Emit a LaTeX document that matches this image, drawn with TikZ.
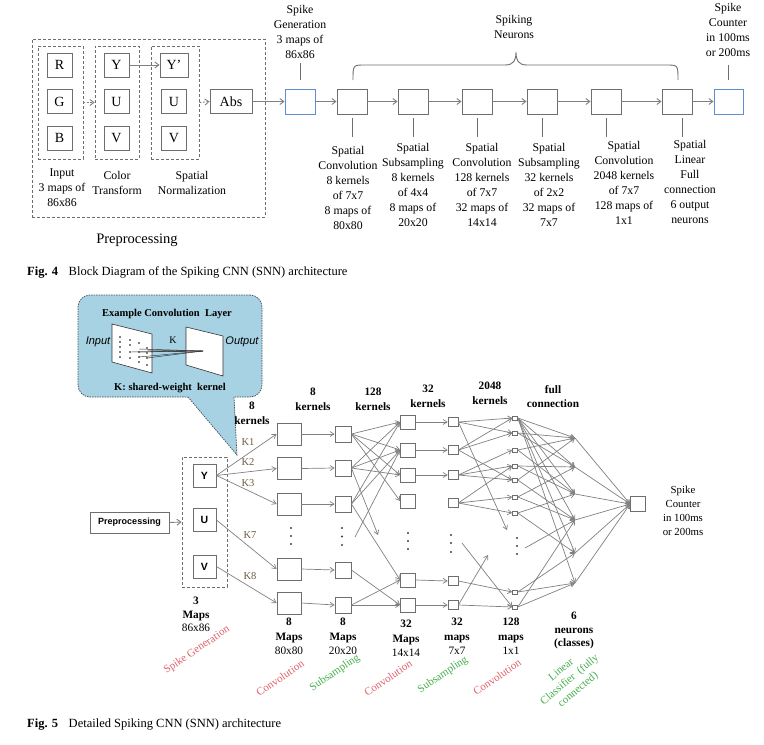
\documentclass[tikz,border=0pt]{standalone}
\usepackage{fontspec}
\setmainfont{Liberation Serif}
\setsansfont{Liberation Sans}
\usetikzlibrary{arrows.meta,calc}
\definecolor{boxgray}{HTML}{6E6E6E}
\definecolor{linegray}{HTML}{808080}
\definecolor{boxblue}{HTML}{5B8FD0}
\definecolor{callblue}{HTML}{A6D2E3}
\definecolor{lblred}{HTML}{E0606A}
\definecolor{lblgreen}{HTML}{45AD4A}
\definecolor{kcol}{HTML}{6B5B3E}
\begin{document}
\begin{tikzpicture}[x=1pt,y=-1pt,
  tb/.style={draw=boxgray,line width=0.9pt,minimum width=25pt,minimum height=24pt,inner sep=0pt,font=\fontsize{14}{16}\selectfont},
  bb/.style={draw=boxblue,line width=0.9pt,minimum width=30pt,minimum height=25pt,inner sep=0pt},
  nb/.style={draw=boxgray,line width=0.9pt,minimum width=30pt,minimum height=25pt,inner sep=0pt},
  dbox/.style={draw=boxgray,dash pattern=on 3pt off 2pt,line width=0.8pt,inner sep=0pt},
  arr/.style={draw=linegray,line width=0.9pt,-{Straight Barb[length=4pt,width=6pt]}},
  darr/.style={arr,dash pattern=on 2pt off 1.5pt},
  tickl/.style={draw=boxgray,line width=0.9pt},
  lbl/.style={align=center,inner sep=0pt,anchor=north,font=\fontsize{11.8}{15}\selectfont},
  blbl/.style={align=center,inner sep=0pt,anchor=north,font=\bfseries\fontsize{11.3}{14.5}\selectfont},
  slbl/.style={align=center,inner sep=0pt,anchor=north,font=\fontsize{10.8}{14}\selectfont},
  rl/.style={inner sep=0pt,rotate=34,font=\fontsize{11}{12}\selectfont,text=lblred},
  gl/.style={inner sep=0pt,rotate=34,font=\fontsize{11}{12}\selectfont,text=lblgreen},
  bx1/.style={draw=boxgray,line width=0.8pt,minimum width=24pt,minimum height=22pt,inner sep=0pt},
  bx2/.style={draw=boxgray,line width=0.8pt,minimum width=16pt,minimum height=16pt,inner sep=0pt},
  bx3/.style={draw=boxgray,line width=0.8pt,minimum width=15pt,minimum height=14pt,inner sep=0pt},
  bx4/.style={draw=boxgray,line width=0.7pt,minimum width=10pt,minimum height=9pt,inner sep=0pt},
  bx5/.style={draw=boxgray,line width=0.6pt,minimum width=5pt,minimum height=4pt,inner sep=0pt},
  narr/.style={draw=linegray,line width=0.7pt,-{Straight Barb[length=4pt,width=5pt]}},
  nline/.style={draw=linegray,line width=0.7pt},
  klbl/.style={inner sep=0pt,text=kcol,font=\fontsize{10.5}{12}\selectfont},
  ybox/.style={draw=boxgray,line width=0.9pt,minimum width=23pt,minimum height=23pt,inner sep=0pt,font=\sffamily\bfseries\fontsize{10.5}{12}\selectfont},
]
\useasboundingbox (0,0) rectangle (764,745);

% ================= Fig. 4 =================
\node[dbox,minimum width=233pt,minimum height=178pt] (dPre) at (148.5,128) {};
\node[dbox,minimum width=45pt,minimum height=113pt] (dIn) at (60.5,102.5) {};
\node[dbox,minimum width=44pt,minimum height=113pt] (dCol) at (117,102.5) {};
\node[dbox,minimum width=48pt,minimum height=113pt] (dNorm) at (175,102.5) {};
\node[tb] (R) at (59.5,65) {R};
\node[tb] (G) at (59.5,101.5) {G};
\node[tb] (B) at (59.5,138) {B};
\node[tb] (Y1) at (116.5,65) {Y};
\node[tb] (U1) at (116.5,101.5) {U};
\node[tb] (V1) at (116.5,138) {V};
\node[tb,minimum width=28pt] (Y2) at (174,65) {Y'};
\node[tb] (U2) at (174,101.5) {U};
\node[tb] (V2) at (174,138) {V};
\node[tb,minimum width=42pt] (Abs) at (231,101.5) {Abs};
\node[bb] (sg) at (300,101.5) {};
\node[nb] (n1) at (352,101.5) {};
\node[nb] (n2) at (413,101.5) {};
\node[nb] (n3) at (477,101.5) {};
\node[nb] (n4) at (542,101.5) {};
\node[nb] (n5) at (606,101.5) {};
\node[nb] (n6) at (677,101.5) {};
\node[bb,minimum width=29pt] (sc) at (728.5,101.5) {};

\draw[darr] (dIn.east) -- (dCol.west);
\draw[arr] (Y1) -- (Y2);
\draw[darr] (dNorm.east) -- (Abs.west);
\draw[arr] (Abs) -- (sg);
\draw[arr] (sg) -- (n1);
\draw[arr] (n1) -- (n2);
\draw[arr] (n2) -- (n3);
\draw[arr] (n3) -- (n4);
\draw[arr] (n4) -- (n5);
\draw[arr] (n5) -- (n6);
\draw[arr] (n6) -- (sc);

\draw[tickl] ([yshift=9pt]sg.north) -- ++(0,-17);
\draw[tickl] ([yshift=9pt]sc.north) -- ++(0,-15);
\foreach \b in {n1,n2,n3,n4,n5}
  \draw[tickl] ([yshift=-4pt]\b.south) -- ++(0,19);
\draw[tickl] ([yshift=-4pt,xshift=5pt]n6.south) -- ++(0,19);

% brace
\draw[tickl] (353,80) .. controls (353,65) and (353,65) .. (365,65) -- (505,65)
  .. controls (514,65) and (516,60) .. (516,52)
  .. controls (516,60) and (518,65) .. (527,65) -- (666,65)
  .. controls (678,65) and (678,65) .. (678,80);

\node[lbl] (lsg) at (300,5) {Spike\\Generation\\3 maps of\\86x86};
\node[lbl] (lsn) at (514,15) {Spiking\\Neurons};
\node[lbl] (lsc) at (728,3) {Spike\\Counter\\in 100ms\\or 200ms};
\node[lbl] (l1) at (348,146) {Spatial\\Convolution\\8 kernels\\of 7x7\\8 maps of\\80x80};
\node[lbl] (l2) at (413,143) {Spatial\\Subsampling\\8 kernels\\of 4x4\\8 maps of\\20x20};
\node[lbl] (l3) at (482,143) {Spatial\\Convolution\\128 kernels\\of 7x7\\32 maps of\\14x14};
\node[lbl] (l4) at (549,143) {Spatial\\Subsampling\\32 kernels\\of 2x2\\32 maps of\\7x7};
\node[lbl] (l5) at (624,141) {Spatial\\Convolution\\2048 kernels\\of 7x7\\128 maps of\\1x1};
\node[lbl] (l6) at (690,140) {Spatial\\Linear\\Full\\connection\\6 output\\neurons};
\node[lbl] (lin) at (62,169) {Input\\3 maps of\\86x86};
\node[lbl] (lct) at (117,171) {Color\\Transform};
\node[lbl] (lsnm) at (192,171) {Spatial\\Normalization};
\node[inner sep=0pt,font=\fontsize{14.5}{16}\selectfont] (lpre) at (137,240) {Preprocessing};
\node[anchor=west,inner sep=0pt,font=\fontsize{12.5}{14}\selectfont] (cap4) at (27,272) {\textbf{Fig. 4}\hspace{0.6em} Block Diagram of the Spiking CNN (SNN) architecture};

% ================= Fig. 5 =================
% callout
\node[draw=black!70,dash pattern=on 1.5pt off 1pt,line width=0.7pt,fill=callblue,rounded corners=12pt,minimum width=184pt,minimum height=102pt,inner sep=0pt] (call) at (170,346) {};
\coordinate (tip) at (237,455);
\fill[callblue] (186.3,395) -- (234,395) -- (tip) -- cycle;
\draw[draw=black!70,dash pattern=on 1.5pt off 1pt,line width=0.7pt] (188,397) -- (tip) -- (234,397);
\node[font=\bfseries\fontsize{10.5}{12}\selectfont,inner sep=0pt] (ecl) at (167,314) {Example Convolution\ \ Layer};
\filldraw[fill=white,draw=black!80,line width=0.6pt] (112,324) -- (152,334) -- (152,373) -- (112,362) -- cycle;
\filldraw[fill=white,draw=black!80,line width=0.6pt] (186,327) -- (223,336) -- (223,376) -- (186,365) -- cycle;
\coordinate (kp) at (203,351);
\foreach \p in {(120,337),(120,342),(120,347),(120,352),(120,357),
                (130,340),(130,345),(130,352),(130,358),
                (139,343),(139,352),(139,357),(139,362),
                (147,348),(147,353),(147,358),(147,365)}
  \fill[black] \p circle (0.9pt);
\foreach \p in {(130,352),(139,349),(147,350),(139,357),(147,358),(139,352)}
  \draw[black!80,line width=0.45pt] \p -- (kp);
\node[font=\sffamily\itshape\fontsize{11}{12}\selectfont,inner sep=0pt] (tin) at (98,342) {Input};
\node[font=\sffamily\itshape\fontsize{11}{12}\selectfont,inner sep=0pt] (tout) at (242,342) {Output};
\node[font=\fontsize{10}{12}\selectfont,inner sep=0pt] (tk) at (173,340) {K};
\node[font=\bfseries\fontsize{10.5}{12}\selectfont,inner sep=0pt] (tsk) at (170,388) {K: shared-weight\ \ kernel};

% input side
\node[draw=boxgray,line width=0.9pt,minimum width=79pt,minimum height=21pt,inner sep=0pt,font=\sffamily\bfseries\fontsize{9}{11}\selectfont] (pre) at (129.5,522.5) {Preprocessing};
\node[dbox,minimum width=45pt,minimum height=130pt] (spk) at (204.5,522) {};
\node[ybox] (Y) at (204.5,475.5) {Y};
\node[ybox] (U) at (204.5,520) {U};
\node[ybox] (V) at (204.5,566.5) {V};
\draw[arr] (pre.east) -- (spk.west);

% columns
\foreach \n/\y in {a/434,b/468.5,c/504,d/569,e/603} \node[bx1] (c1\n) at (289,\y) {};
\foreach \n/\y in {a/434,b/468,c/504,d/570,e/605} \node[bx2] (c2\n) at (343,\y) {};
\foreach \n/\y in {a/422,b/450,c/475,d/501,e/580,f/605} \node[bx3] (c3\n) at (408,\y) {};
\foreach \n/\y in {a/422,b/450,c/475,d/503,e/581,f/605} \node[bx4] (c4\n) at (453,\y) {};
\foreach \n/\y in {a/418,b/433,c/450,d/466,e/480,f/497,g/513,h/592,i/607} \node[bx5] (c5\n) at (515,\y) {};
\foreach \n/\y in {a/438,b/467,c/494,d/520,e/553,f/583} \coordinate (c6\n) at (575,\y);
\node[draw=boxgray,line width=0.8pt,minimum width=15pt,minimum height=15pt,inner sep=0pt] (out) at (638,504) {};

% vertical dots
\foreach \x/\ya/\yb/\yc in {291/528/536/544, 342/528/536.5/545, 408/533/541/549, 451/535/543/552, 517/538/546/554}
  {\fill[black!75] (\x,\ya) circle (1.1pt); \fill[black!75] (\x,\yb) circle (1.1pt); \fill[black!75] (\x,\yc) circle (1.1pt);}

% spike gen -> conv1
\draw[narr] (Y.east) -- (c1a.west);
\draw[narr] (Y.east) -- (c1b.west);
\draw[narr] (Y.east) -- (c1c.west);
\draw[narr] (U.east) -- (c1d.west);
\draw[narr] (V.east) -- (c1e.west);
\node[klbl] (k1) at (248,442) {K1};
\node[klbl] (k2) at (248,462) {K2};
\node[klbl] (k3) at (248,483) {K3};
\node[klbl] (k7) at (250,535) {K7};
\node[klbl] (k8) at (250,576) {K8};

% conv1 -> sub1
\foreach \n in {a,b,c,d,e} \draw[narr] (c1\n.east) -- (c2\n.west);

% sub1 -> conv2
\coordinate (dg1) at (378,535);
\coordinate (ds1) at (355,537);
\foreach \s/\t in {a/a,a/b,a/c,a/d,b/a,b/b,b/c,c/a,c/b,c/e,d/f,e/e,e/f}
  \draw[narr] (c2\s.east) -- (c3\t.west);
\draw[narr] (c2b.east) -- (dg1);
\draw[narr] (ds1) -- (c3b.west);

% conv2 -> sub2
\foreach \n in {a,b,c,e,f} \draw[narr] (c3\n.east) -- (c4\n.west);

% sub2 -> conv3
\coordinate (dg2) at (507,530);
\coordinate (dg3) at (488,555);
\coordinate (ds2) at (462,543);
\foreach \s/\t in {a/a,a/b,b/a,b/b,b/e,c/c,c/d,c/e,d/d,d/f,d/g,e/h,f/i}
  \draw[narr] (c4\s.east) -- (c5\t.west);
\draw[narr] (c4a.east) -- (dg2);
\draw[narr] (c4f.east) -- (dg3);
\draw[narr] (ds2) -- (c5i.west);

% conv3 -> neurons
\coordinate (ds3) at (525,548);
\foreach \s/\t in {a/a,a/b,a/c,a/d,a/e,a/f,b/a,b/b,c/a,c/c,d/b,d/c,e/a,e/d,f/b,f/d,g/c,g/e,h/e,h/f,i/d,i/f}
  \draw[narr] (c5\s.east) -- (c6\t);
\draw[narr] (ds3) -- (c6d);
\foreach \n in {a,b,c,d,e,f} \draw[narr] (c6\n) -- (out.west);

% top labels
\node[blbl] (t1) at (252,402) {8\\kernels};
\node[blbl] (t2) at (313,388) {8\\kernels};
\node[blbl] (t3) at (373,388) {128\\kernels};
\node[blbl] (t4) at (428,385) {32\\kernels};
\node[blbl] (t5) at (490,382) {2048\\kernels};
\node[blbl] (t6) at (553,385) {full\\connection};
\node[slbl] (tsc) at (683,486) {Spike\\Counter\\in 100ms\\or 200ms};

% bottom labels
\node[blbl,font=\bfseries\fontsize{11.3}{13.5}\selectfont] (b0) at (196,597) {3\\Maps\\{\mdseries 86x86}};
\node[blbl] (b1) at (289,618) {8\\Maps\\{\mdseries 80x80}};
\node[blbl] (b2) at (343,618) {8\\Maps\\{\mdseries 20x20}};
\node[blbl] (b3) at (406,620) {32\\Maps\\{\mdseries 14x14}};
\node[blbl] (b4) at (457,618) {32\\maps\\{\mdseries 7x7}};
\node[blbl] (b5) at (511,618) {128\\maps\\{\mdseries 1x1}};
\node[blbl,font=\bfseries\fontsize{11.3}{13.5}\selectfont] (b6) at (574,612) {6\\neurons\\(classes)};

\node[rl] (r0) at (197,650) {Spike Generation};
\node[rl] (r1) at (280,678) {Convolution};
\node[gl] (r2) at (335,673) {Subsampling};
\node[rl] (r3) at (388,678) {Convolution};
\node[gl] (r4) at (443,675) {Subsampling};
\node[rl] (r5) at (497,677) {Convolution};
\node[gl,rotate=6,align=center,font=\fontsize{11}{13}\selectfont] (r6) at (570,680) {Linear\\Classifier\ \ (fully\\connected)};

\node[anchor=west,inner sep=0pt,font=\fontsize{12.5}{14}\selectfont] (cap5) at (27,725) {\textbf{Fig. 5}\hspace{0.6em} Detailed Spiking CNN (SNN) architecture};
\end{tikzpicture}
\end{document}
